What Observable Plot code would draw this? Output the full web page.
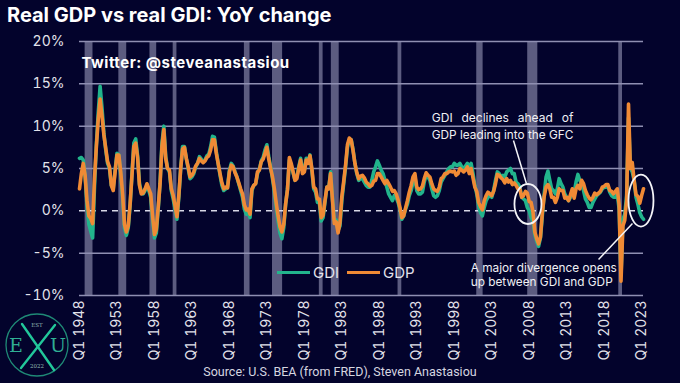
<!DOCTYPE html>
<html><head><meta charset="utf-8">
<script src="https://cdn.jsdelivr.net/npm/d3@7"></script>
<script src="https://cdn.jsdelivr.net/npm/@observablehq/plot@0.6"></script>
<style>
html,body{margin:0;padding:0;background:#03032c;}
#wrap{position:relative;width:680px;height:383px;overflow:hidden;background:#03032c;font-family:Inter,"Noto Sans",sans-serif;}
#title{height:30px;line-height:30px;padding-left:7px;color:#fff;font-weight:700;font-size:20px;white-space:nowrap;}
#chart svg{display:block;}
#caption{height:22px;line-height:22px;text-align:center;color:#d6d6e0;font-family:"Liberation Sans Narrow",Roboto,sans-serif;font-size:12.5px;}
#legend{position:absolute;left:277px;top:262px;height:20px;display:flex;align-items:center;color:#e4e4ec;font-size:15px;}
#legend .sw{display:inline-block;width:33px;height:3px;margin-right:3px;}
#logo{position:absolute;left:2px;top:310px;}
g.justify text{word-spacing:5.5px;}
g.twit text{letter-spacing:0.5px;}
</style>
</head><body>
<div id="wrap">
  <div id="title">Real GDP vs real GDI: YoY change</div>
  <div id="chart"></div>
  <div id="caption">Source: U.S. BEA (from FRED), Steven Anastasiou</div>
  <div id="legend"><span class="sw" style="background:#22b48c"></span><span style="margin-right:8px">GDI</span><span class="sw" style="background:#f08a35"></span><span>GDP</span></div>
  <svg id="logo" width="70" height="70" viewBox="0 0 70 70">
    <circle cx="35" cy="35" r="31" fill="none" stroke="#1f8a76" stroke-width="1.3"/>
    <text x="35" y="17" text-anchor="middle" font-family="DejaVu Serif,serif" font-size="5.5" fill="#8fb8b0">EST</text>
    <text x="35" y="58" text-anchor="middle" font-family="DejaVu Serif,serif" font-size="5.5" fill="#8fb8b0">2022</text>
    <text x="14" y="42" text-anchor="middle" font-family="DejaVu Serif,serif" font-size="19" fill="#2fae94">E</text>
    <text x="56" y="42" text-anchor="middle" font-family="DejaVu Serif,serif" font-size="19" fill="#2fae94">U</text>
    <line x1="20" y1="14" x2="52" y2="60" stroke="#22c79a" stroke-width="2.4" stroke-linecap="round"/>
    <line x1="53" y1="15" x2="19" y2="58" stroke="#22c79a" stroke-width="2.4" stroke-linecap="round"/>
  </svg>
</div>
<script>
// ---- data (YoY % change, quarterly, 1948 Q1 .. 2023 Q2) ----
const startYear = 1948;
const gdp = [
 2.6,4.4,5.6,4.2, 1.2,-0.6,-0.9,-1.5, 3.8,7.6,10.8,13.2, 11.2,9.0,7.4,5.8,
 5.2,3.0,2.4,4.6, 6.6,6.6,4.6,2.0, -1.6,-2.5,-1.8,0.8, 4.2,7.6,8.0,6.3,
 3.0,2.0,2.1,2.6, 3.2,2.6,2.0,-0.6, -2.8,-2.2,0.4,3.2, 7.6,9.6,6.2,5.0,
 4.8,2.6,1.8,0.6, -0.7,1.8,5.0,7.3, 7.5,6.2,5.2,4.0, 4.2,4.6,5.3,5.6,
 6.2,5.9,5.7,5.9, 6.3,6.5,7.2,8.4, 8.4,6.8,5.6,4.4, 3.3,2.6,2.8,2.7,
 4.6,5.4,5.2,4.5, 4.0,3.3,2.6,2.0, 0.7,0.1,0.2,-0.4, 2.6,3.0,3.2,4.6,
 4.8,5.8,6.1,6.8, 7.5,6.1,5.0,4.0, 2.6,0.9,-0.6,-1.9, -2.5,-1.6,0.8,2.5,
 6.3,5.6,4.6,3.6, 3.8,5.0,6.0,4.4, 4.6,6.0,5.6,6.5, 5.0,2.8,2.6,1.4,
 1.4,-0.8,-0.5,1.2, 2.8,2.6,4.4,1.3, -1.5,-1.3,-2.6,-1.4, 1.7,3.5,5.4,7.8,
 8.6,8.4,7.1,5.6, 4.5,3.8,4.1,4.2, 3.9,3.4,3.2,2.9, 3.0,3.5,3.6,4.4,
 4.4,4.0,3.6,3.2, 3.6,3.2,2.8,2.3, 2.4,2.0,1.3,0.4, -0.8,-0.6,0.3,1.2,
 2.2,3.0,4.0,4.4, 2.8,2.5,2.6,2.9, 3.8,4.5,4.2,4.0, 3.2,2.6,2.4,2.3,
 2.8,3.8,4.0,4.4, 4.4,4.6,4.7,4.6, 4.7,4.2,4.4,5.0, 4.8,4.6,4.8,5.2,
 4.4,5.0,3.9,2.8, 2.3,1.0,0.5,0.1, 1.2,1.8,2.2,2.0, 1.8,2.3,3.2,4.3,
 4.2,3.9,3.7,3.3, 3.8,3.4,3.6,3.1, 3.3,3.0,2.6,2.6, 1.6,1.8,2.3,2.1,
 1.1,1.0,-0.1,-2.5, -3.3,-3.9,-3.1,-0.2, 1.7,2.8,3.1,2.6, 1.6,1.6,1.0,1.6,
 2.6,2.4,2.4,1.5, 1.6,1.2,1.9,2.6, 1.5,2.6,3.0,2.6, 3.6,3.2,2.4,1.9,
 1.5,1.3,1.6,2.1, 1.9,2.1,2.3,2.8, 2.9,3.1,3.1,2.4, 2.3,2.0,2.3,2.6,
 0.7,-8.3,-1.8,-1.1, 1.2,12.6,5.0,5.7, 3.6,1.9,1.7,0.9, 1.8,2.6
];
const gdi = [
 6.2,6.3,6.0,4.0, 0.6,-1.6,-2.4,-3.2, 2.8,7.8,11.6,14.7, 12.2,9.2,7.2,5.6,
 5.0,3.0,2.6,4.8, 6.8,6.6,4.2,1.6, -2.0,-2.9,-2.0,0.6, 4.4,8.0,8.5,6.5,
 3.2,2.2,2.0,2.4, 3.0,2.4,1.6,-1.0, -3.2,-2.6,0.2,3.4, 8.0,10.0,6.4,5.0,
 4.6,2.4,1.4,0.2, -1.0,1.6,5.0,7.6, 7.6,6.2,5.0,3.8, 4.0,4.4,5.2,5.6,
 6.4,6.1,5.8,6.0, 6.5,6.7,7.6,8.8, 8.7,7.0,5.6,4.2, 3.0,2.4,2.6,2.8,
 4.8,5.6,5.3,4.6, 4.0,3.2,2.4,1.6, 0.2,-0.4,-0.2,-0.8, 2.4,3.0,3.2,4.4,
 4.9,5.9,6.3,7.2, 7.8,6.4,5.2,3.8, 2.2,0.4,-1.2,-2.6, -3.3,-2.0,0.8,2.6,
 6.0,5.4,4.5,3.6, 4.0,5.2,6.2,4.8, 4.8,6.2,5.8,6.6, 4.8,2.6,2.2,1.0,
 1.0,-1.2,-0.8,1.0, 2.8,2.6,4.6,1.4, -1.2,-1.1,-2.3,-1.8, 1.2,3.2,5.2,7.5,
 8.4,8.4,7.2,5.6, 4.4,3.6,3.8,3.8, 3.4,3.0,2.8,2.8, 3.6,4.6,5.2,5.9,
 5.4,4.8,4.4,3.6, 2.8,2.0,1.6,1.2, 1.8,1.6,1.0,0.2, -1.0,-0.6,0.2,0.8,
 1.8,2.4,3.4,4.0, 2.4,2.0,2.0,2.2, 3.4,4.2,4.0,3.6, 2.6,1.8,1.6,1.8,
 2.4,3.4,3.8,4.2, 4.6,5.0,5.2,5.2, 5.6,5.4,5.4,5.6, 5.2,5.0,5.3,5.6,
 5.0,5.6,4.4,3.0, 2.0,0.6,-0.2,-0.6, 0.4,1.2,1.6,1.8, 1.6,2.4,3.6,4.6,
 4.4,4.0,4.2,4.0, 4.6,4.8,5.0,4.4, 4.4,3.4,3.2,2.8, 1.6,1.4,1.2,0.4,
 0.0,-0.8,-1.2,-2.8, -3.6,-4.2,-3.2,-0.6, 2.0,4.0,4.7,3.6, 2.6,2.4,2.0,2.6,
 3.8,3.2,2.8,2.0, 1.6,1.2,1.6,2.2, 2.2,3.4,4.3,3.6, 3.2,2.4,1.4,1.0,
 0.4,0.4,1.0,1.4, 1.8,2.0,2.2,2.6, 2.8,2.8,2.9,2.2, 1.8,1.6,1.6,2.0,
 0.2,-7.6,-1.0,-0.4, 1.8,11.0,5.0,4.6, 3.6,1.6,0.8,-0.2, -0.7,-1.0
];
// NBER recession shading (fractional years)
const recStart = [1948.75,1953.25,1957.4,1960.5,1970.0,1973.75,1980.0,1981.6,1990.5,2001.0,2007.8,2019.95];
const recEnd   = [1949.8,1954.3,1958.3,1961.0,1970.75,1975.1,1980.5,1982.65,1991.0,2001.85,2009.15,2020.45];
const xTicks = [1948,1953,1958,1963,1968,1973,1978,1983,1988,1993,1998,2003,2008,2013,2018,2023];
const yTicks = [-10,-5,0,5,10,15,20];
const gridTicks = [-10,-5,5,10,15,20];
// annotations
const note1 = [{x:1995.0, y:10.9, text:"GDI declines ahead of"}];
const note1b = [{x:1995.0, y:8.9, text:"GDP leading into the GFC"}];
const note2 = [{x:2000.2, y:-6.8, text:"A major divergence opens"},{x:2000.2, y:-8.45, text:"up between GDI and GDP"}];
const pointers = [{x1:2005.9,y1:8.3,x2:2007.64,y2:3.2},{x1:2017.25,y1:-5.75,x2:2021.78,y2:-1.5}];
const ellipses = [{x:2007.9,y:0.75,rx:13.5,ry:20},{x:2022.98,y:1.15,rx:12.5,ry:26}];

const rows = gdp.map((v,i)=>({t:startYear+i/4, gdp:v, gdi:gdi[i]}));
const recessions = recStart.map((s,i)=>({x1:s, x2:recEnd[i]}));

const ellipseMark = (index, scales) => {
  const g = d3.create("svg:g");
  for (const e of ellipses) {
    g.append("ellipse").attr("cx", scales.x(e.x)).attr("cy", scales.y(e.y))
      .attr("rx", e.rx).attr("ry", e.ry).attr("fill","none")
      .attr("stroke","#f4f4f8").attr("stroke-width",1.8);
  }
  return g.node();
};

const chart = Plot.plot({
  width: 680, height: 331,
  marginTop: 11, marginBottom: 66, marginLeft: 79, marginRight: 37,
  style: {background:"transparent", color:"#e2e2ea", fontFamily:"Inter, sans-serif", overflow:"visible"},
  x: {domain:[1948, 2023.25]},
  y: {domain:[-10, 20]},
  marks: [
    Plot.rect(recessions, {x1:"x1", x2:"x2", fill:"#5c5c80"}),
    Plot.ruleY(gridTicks, {stroke:"#8f8fb2", strokeWidth:1.5}),
    Plot.ruleY([0], {stroke:"#d8d8e6", strokeWidth:1.5, strokeDasharray:"6,5"}),
    Plot.axisY({ticks:yTicks, tickFormat:d=>d+"%", tickSize:0, tickPadding:15, fontSize:14, fill:"#e2e2ea", label:null}),
    Plot.axisX({ticks:xTicks, tickFormat:d=>"Q1 "+d, tickRotate:-90, tickSize:0, tickPadding:5, fontSize:14, fill:"#e2e2ea", label:null}),
    Plot.line(rows, {x:"t", y:"gdi", stroke:"#22b48c", strokeWidth:3.6, curve:"linear"}),
    Plot.line(rows, {x:"t", y:"gdp", stroke:"#f08a35", strokeWidth:3.6, curve:"linear"}),
    Plot.text(["Twitter: @steveanastasiou"], {frameAnchor:"top-left", lineAnchor:"middle", dx:2, dy:22, fontSize:15, fontWeight:700, fill:"#ffffff", className:"twit"}),
    Plot.text(note1, {x:"x", y:"y", text:"text", textAnchor:"start", fontSize:12, fill:"#f0f0f4", className:"justify"}),
    Plot.text(note1b, {x:"x", y:"y", text:"text", textAnchor:"start", fontSize:11.8, fill:"#f0f0f4"}),
    Plot.text(note2, {x:"x", y:"y", text:"text", textAnchor:"start", fontSize:11.8, fill:"#f0f0f4"}),
    Plot.link(pointers, {x1:"x1", y1:"y1", x2:"x2", y2:"y2", stroke:"#f4f4f8", strokeWidth:1.5}),
    ellipseMark
  ]
});
document.getElementById("chart").append(chart);
</script>
</body></html>
